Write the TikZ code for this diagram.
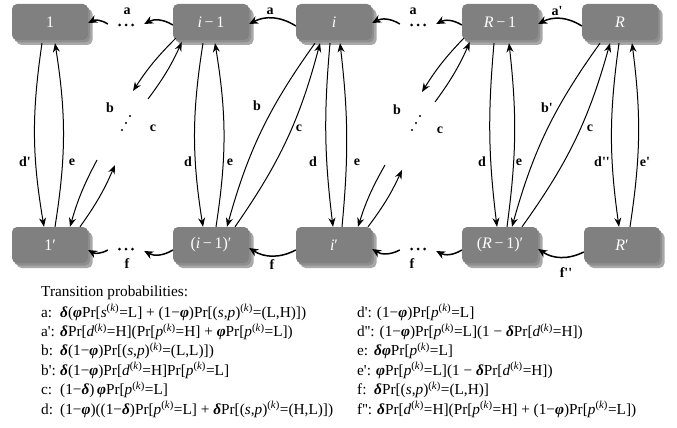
\documentclass[tikz,border=0pt]{standalone}
\usepackage{fontspec}
\setmainfont{Liberation Serif}[Ligatures=TeXOff]
\usetikzlibrary{arrows.meta,shadows}
\definecolor{boxgray}{HTML}{808080}
\definecolor{shadeA}{HTML}{8E8E8E}
\definecolor{shadeB}{HTML}{A8A8A8}
\newcommand{\dl}{\textbf{\textit{δ}}}
\newcommand{\ph}{\textbf{\textit{φ}}}
\newcommand{\kk}{\textsuperscript{(\textit{k})}}
\newcommand{\lbl}[2][19pt]{\makebox[#1][l]{#2}}
\begin{document}
\begin{tikzpicture}[x=1pt,y=-1pt,
  state/.style={rectangle, rounded corners=5pt, fill=boxgray, minimum width=76pt,
    minimum height=36pt, inner sep=0pt, text=white, font=\fontsize{16}{16}\selectfont,
    general shadow={fill=shadeB, shadow xshift=4.5pt, shadow yshift=-5pt},
    general shadow={fill=shadeA, shadow xshift=2pt, shadow yshift=-2.5pt}},
  dotsnode/.style={minimum width=36pt, minimum height=4pt, inner sep=0pt},
  elab/.style={font=\fontsize{14}{14}\selectfont\bfseries, inner sep=0pt},
  harr/.style={-{Stealth[length=9pt,width=8pt]}, line width=1.5pt},
  varr/.style={-{Stealth[length=9pt,width=7pt]}, line width=1pt},
  txt/.style={anchor=base west, inner sep=0pt, font=\fontsize{15.3}{17}\selectfont},
  dotdot/.style={fill=black}
]
\path[use as bounding box] (0,0) rectangle (677,428);

% top states
\node[state] (n1)   at (50,22)  {1};
\node[state] (nim1) at (211,22) {\textit{i}\,−\,1};
\node[state] (ni)   at (334,22) {\textit{i}};
\node[state] (nRm1) at (500,22) {\textit{R}\,−\,1};
\node[state] (nR)   at (620,22) {\textit{R}};
% bottom states
\node[state] (m1)   at (50,245)  {1′};
\node[state] (mim1) at (211,245) {(\textit{i}\,−\,1)′};
\node[state] (mi)   at (334,245) {\textit{i}′};
\node[state] (mRm1) at (500,245) {(\textit{R}\,−\,1)′};
\node[state] (mR)   at (622,245) {\textit{R}′};

% dots (anchors for the arrows) and their three points
\node[dotsnode] (dTL) at (126,25) {};
\node[dotsnode] (dTR) at (418,25) {};
\node[dotsnode] (dBL) at (126,249) {};
\node[dotsnode] (dBR) at (418,249) {};
\foreach \d in {dTL,dTR,dBL,dBR}{
  \fill[dotdot] ([xshift=-6.5pt]\d.center) circle (1.5) (\d.center) circle (1.5) ([xshift=6.5pt]\d.center) circle (1.5);
}

% diagonal dots
\fill[dotdot] (130,116) circle (1.2) (126,123) circle (1.2) (122,130) circle (1.2);
\fill[dotdot] (420,116) circle (1.2) (416,123) circle (1.2) (412,130) circle (1.2);

% free ends near the dots
\coordinate (bTL) at (133,91);
\coordinate (cTL) at (148,99);
\coordinate (bBL) at (97,160);
\coordinate (cBL) at (115,165);
\coordinate (bTR) at (422,92);
\coordinate (cTR) at (435,102);
\coordinate (bBR) at (385,165);
\coordinate (cBR) at (402,170);

% top horizontal arrows
\draw[harr] ([yshift=-3pt]nim1.west) to[bend right=30] ([yshift=1pt]dTL.east);
\draw[harr] ([yshift=1pt]dTL.west) to[bend right=30] ([yshift=-1pt]n1.east);
\draw[harr] ([yshift=-4pt]ni.west) to[bend right=30] ([yshift=-2pt]nim1.east);
\draw[harr] ([yshift=1pt]dTR.west) to[bend right=30] ([yshift=-1pt]ni.east);
\draw[harr] ([yshift=-3pt]nRm1.west) to[bend right=30] ([yshift=1pt]dTR.east);
\draw[harr] ([yshift=-4pt]nR.west) to[bend right=30] ([yshift=-2pt]nRm1.east);

% bottom horizontal arrows
\draw[harr] ([yshift=-5pt]mim1.west) to[bend left=30] ([yshift=-2pt]dBL.east);
\draw[harr] ([yshift=-1pt]dBL.west) to[bend left=30] ([yshift=-5pt]m1.east);
\draw[harr] ([yshift=-5pt]mi.west) to[bend left=30] ([yshift=-3pt]mim1.east);
\draw[harr] ([yshift=-1pt]dBR.west) to[bend left=30] ([yshift=-4pt]mi.east);
\draw[harr] ([yshift=-5pt]mRm1.west) to[bend left=30] ([yshift=-2pt]dBR.east);
\draw[harr] ([yshift=-7pt]mR.west) to[bend left=30] ([yshift=-4pt]mRm1.east);

% column 1
\draw[varr] ([xshift=-8pt,yshift=-3pt]n1.south) to[bend right=9] ([xshift=-6pt]m1.north);
\draw[varr] ([xshift=5pt]m1.north) to[bend right=9] ([xshift=5pt,yshift=-3pt]n1.south);
\draw[varr] (bBL) to[bend right=6] ([xshift=20pt]m1.north);
\draw[varr] ([xshift=30pt]m1.north) to[bend right=6] (cBL);

% column i-1
\draw[varr] ([xshift=3pt,yshift=2pt]nim1.south west) to[bend right=6] (bTL);
\draw[varr] (cTL) to[bend right=6] ([xshift=9pt,yshift=-2pt]nim1.south west);
\draw[varr] ([xshift=-8pt,yshift=-3pt]nim1.south) to[bend right=9] ([xshift=-8pt]mim1.north);
\draw[varr] ([xshift=5pt]mim1.north) to[bend right=9] ([xshift=4pt,yshift=-3pt]nim1.south);
\draw[varr] ([xshift=-19pt,yshift=-3pt]ni.south) to[bend right=10] ([xshift=16pt]mim1.north);
\draw[varr] ([xshift=24pt]mim1.north) to[bend right=10] ([xshift=-14pt,yshift=-3pt]ni.south);

% column i
\draw[varr] ([xshift=-4pt,yshift=-3pt]ni.south) to[bend right=6] ([xshift=-1pt]mi.north);
\draw[varr] ([xshift=8pt]mi.north) to[bend right=6] ([xshift=6pt,yshift=-3pt]ni.south);
\draw[varr] (bBR) to[bend right=6] ([xshift=24pt]mi.north);
\draw[varr] ([xshift=34pt]mi.north) to[bend right=6] (cBR);

% column R-1
\draw[varr] ([xshift=2pt,yshift=2pt]nRm1.south west) to[bend right=6] (bTR);
\draw[varr] (cTR) to[bend right=6] ([xshift=8pt,yshift=-2pt]nRm1.south west);
\draw[varr] ([xshift=-6pt,yshift=-3pt]nRm1.south) to[bend right=6] ([xshift=-3pt]mRm1.north);
\draw[varr] ([xshift=7pt]mRm1.north) to[bend right=7] ([xshift=9pt,yshift=-3pt]nRm1.south);
\draw[varr] ([xshift=-20pt,yshift=-3pt]nR.south) to[bend right=10] ([xshift=12pt]mRm1.north);
\draw[varr] ([xshift=22pt]mRm1.north) to[bend right=10] ([xshift=-10pt,yshift=-3pt]nR.south);

% column R
\draw[varr] ([xshift=-1pt,yshift=-3pt]nR.south) to[bend right=8] ([xshift=-3pt]mR.north);
\draw[varr] ([xshift=8pt]mR.north) to[bend right=8] ([xshift=12pt,yshift=-3pt]nR.south);

% edge labels
\node[elab] (la1) at (127,11) {a};
\node[elab] (la2) at (270,11) {a};
\node[elab] (la3) at (413,11) {a};
\node[elab] (la4) at (557,11) {a'};
\node[elab] (lf1) at (127,264) {f};
\node[elab] (lf2) at (272,265) {f};
\node[elab] (lf3) at (412,264) {f};
\node[elab] (lf4) at (566,273) {f''};
\node[elab] (ld1) at (25,162) {d'};
\node[elab] (le1) at (72,162) {e};
\node[elab] (ld2) at (188,162) {d};
\node[elab] (le2) at (230,162) {e};
\node[elab] (ld3) at (313,162) {d};
\node[elab] (le3) at (357,162) {e};
\node[elab] (ld4) at (482,162) {d};
\node[elab] (le4) at (519,162) {e};
\node[elab] (ld5) at (602,162) {d''};
\node[elab] (le5) at (645,162) {e'};
\node[elab] (lb1) at (110,108) {b};
\node[elab] (lc1) at (153,128) {c};
\node[elab] (lb2) at (257,106) {b};
\node[elab] (lc2) at (299,128) {c};
\node[elab] (lb3) at (397,110) {b};
\node[elab] (lc3) at (440,130) {c};
\node[elab] (lb4) at (547,108) {b'};
\node[elab] (lc4) at (590,128) {c};

% transition probabilities
\node[txt] (tt) at (41,296) {Transition probabilities:};
\node[txt] (ta)  at (41,317) {\lbl{a:}\dl(\ph Pr[\textit{s}\kk=L] + (1−\ph)Pr[(\textit{s},\textit{p})\kk=(L,H)])};
\node[txt] (ta2) at (41,336.4) {\lbl{a':}\dl Pr[\textit{d}\kk=H](Pr[\textit{p}\kk=H] + \ph Pr[\textit{p}\kk=L])};
\node[txt] (tb)  at (41,355.8) {\lbl{b:}\dl(1−\ph)Pr[(\textit{s},\textit{p})\kk=(L,L)])};
\node[txt] (tb2) at (41,375.2) {\lbl{b':}\dl(1−\ph)Pr[\textit{d}\kk=H]Pr[\textit{p}\kk=L]};
\node[txt] (tc)  at (41,394.6) {\lbl{c:}(1−\dl)\,\ph Pr[\textit{p}\kk=L]};
\node[txt] (td)  at (41,414) {\lbl{d:}(1−\ph)((1−\dl)Pr[\textit{p}\kk=L] + \dl Pr[(\textit{s},\textit{p})\kk=(H,L)])};

\node[txt] (td2) at (357,317) {d': (1−\ph)Pr[\textit{p}\kk=L]};
\node[txt] (td3) at (357,336.4) {d'': (1−\ph)Pr[\textit{p}\kk=L](1 − \dl Pr[\textit{d}\kk=H])};
\node[txt] (te)  at (357,355.8) {\lbl[17pt]{e:}\dl\ph Pr[\textit{p}\kk=L]};
\node[txt] (te2) at (357,375.2) {e': \ph Pr[\textit{p}\kk=L](1 − \dl Pr[\textit{d}\kk=H])};
\node[txt] (tf)  at (357,394.6) {\lbl[17pt]{f:}\dl Pr[(\textit{s},\textit{p})\kk=(L,H)]};
\node[txt] (tf2) at (357,414) {f'': \dl Pr[\textit{d}\kk=H](Pr[\textit{p}\kk=H] + (1−\ph)Pr[\textit{p}\kk=L])};
\end{tikzpicture}
\end{document}
